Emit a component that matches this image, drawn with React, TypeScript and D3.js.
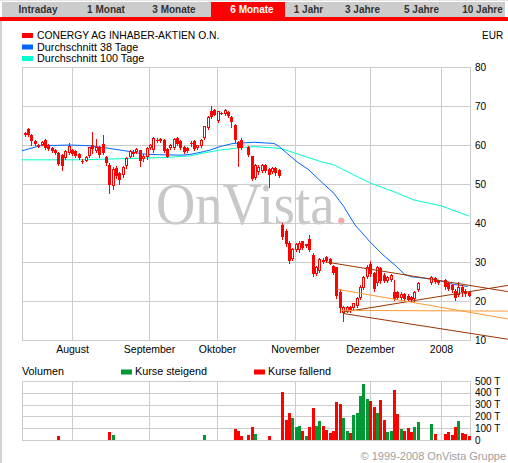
import React from "react";
import * as d3 from "d3";

const W = 508;
const H = 463;

// ---------- data (weekday index 0 = 2007-07-11) ----------
const tabLabels = ["Intraday", "1 Monat", "3 Monate", "6 Monate", "1 Jahr", "3 Jahre", "5 Jahre", "10 Jahre"];
const selectedTab = 3;
const seriesName = "CONERGY AG INHABER-AKTIEN O.N.";
const maNames = ["Durchschnitt 38 Tage", "Durchschnitt 100 Tage"];
const currency = "EUR";
const priceTicks = [10, 20, 30, 40, 50, 60, 70, 80];
const volumeTicks = [0, 100, 200, 300, 400, 500];
const volumeTickLabels = ["0", "100 T", "200 T", "300 T", "400 T", "500 T"];
const monthLabels = ["August", "September", "Oktober", "November", "Dezember", "2008"];
const monthStartDay = [15, 38, 58, 81, 103, 124];

// [open, high, low, close] per weekday, null = no trading
const candles: ([number, number, number, number] | null)[] = [
  null,
  [63.1, 63.3, 62.4, 62.5], [64.1, 64.4, 62.4, 62.6], [62.6, 62.8, 60.1, 61.0], [61.1, 61.3, 59.9, 60.3],
  [60.1, 60.3, 59.4, 59.6], [60.1, 61.0, 59.9, 60.8], [61.2, 61.5, 59.0, 59.3], [60.1, 60.3, 58.7, 59.0],
  [59.3, 59.5, 58.2, 58.5], [58.8, 59.0, 57.6, 57.9], [57.9, 58.1, 54.8, 55.2], [57.4, 57.6, 53.7, 54.6],
  [56.7, 58.6, 56.5, 58.4], [58.0, 60.6, 57.8, 59.7], [58.6, 58.9, 57.5, 57.8], [58.5, 58.7, 56.9, 57.2],
  [57.7, 57.9, 56.4, 56.7], [55.9, 56.3, 55.3, 55.8], [56.0, 57.1, 55.8, 56.9], [57.1, 59.6, 56.9, 59.4],
  [60.0, 63.4, 58.0, 59.0], [58.5, 61.5, 58.2, 59.6], [59.4, 59.8, 57.0, 57.4], [60.2, 62.6, 57.6, 58.0],
  [57.0, 57.3, 54.9, 55.3], [55.0, 55.3, 47.8, 49.8], [49.5, 54.3, 48.8, 53.8], [54.1, 54.5, 51.6, 52.0],
  [52.8, 53.2, 50.1, 51.1], [52.2, 54.5, 51.8, 54.3], [54.6, 56.8, 54.2, 56.6], [57.0, 58.6, 56.8, 58.4],
  [57.6, 58.6, 57.3, 58.3], [58.3, 59.2, 58.0, 59.0], [58.6, 58.8, 54.6, 55.9], [56.4, 57.6, 56.0, 57.3],
  [56.8, 59.4, 56.5, 59.2], [59.2, 60.3, 58.9, 60.1], [58.6, 62.0, 58.3, 61.8], [61.3, 61.8, 60.8, 61.2],
  [61.0, 61.8, 60.8, 61.6], [61.4, 61.6, 58.2, 58.5], [59.0, 59.3, 56.8, 57.0], [59.2, 60.3, 59.0, 60.1],
  [59.3, 61.8, 59.1, 61.6], [61.7, 62.0, 59.9, 60.2], [61.0, 61.2, 59.0, 59.3], [59.6, 59.8, 57.9, 58.3],
  [59.2, 59.5, 58.2, 58.4], [60.3, 61.0, 59.7, 60.4], [61.0, 61.2, 58.6, 58.9], [59.3, 60.1, 59.0, 60.0],
  [59.7, 61.5, 59.5, 61.4], [61.8, 65.0, 61.6, 64.8], [64.4, 67.5, 64.2, 67.3], [68.6, 70.0, 66.8, 67.3],
  [69.0, 69.3, 67.6, 67.8], [66.2, 68.8, 66.0, 68.6], [68.1, 68.5, 67.9, 68.2], [67.9, 69.3, 67.7, 69.0],
  [68.5, 68.7, 67.2, 67.4], [67.2, 67.5, 64.5, 66.0], [65.1, 65.3, 60.8, 61.2], [60.8, 61.0, 54.5, 59.3],
  [61.4, 61.8, 59.0, 59.3], null, [59.4, 59.7, 57.3, 57.5], [57.1, 57.3, 51.0, 51.3],
  [51.6, 55.2, 51.2, 54.8], [53.0, 54.8, 52.6, 54.3], [53.4, 55.2, 53.0, 55.0], [54.8, 55.2, 53.0, 53.4],
  [53.8, 54.2, 49.3, 52.3], [53.0, 54.3, 52.7, 54.0], [54.0, 54.3, 52.4, 52.7], [53.6, 53.9, 51.8, 52.1],
  [39.5, 40.0, 36.0, 36.4], [38.0, 38.4, 34.2, 34.6], [35.0, 35.3, 29.8, 30.2], [30.8, 33.6, 30.5, 33.3],
  [33.2, 34.9, 32.9, 34.6], [33.0, 35.3, 32.6, 35.0], [35.3, 35.5, 33.4, 33.7], [34.0, 34.7, 33.8, 34.5],
  [35.8, 37.0, 32.8, 33.1], [31.8, 32.2, 26.5, 27.0], [27.0, 28.9, 26.6, 28.6], [27.8, 31.0, 27.5, 30.7],
  [30.6, 30.9, 29.8, 30.0], [31.3, 31.5, 30.0, 30.2], [30.8, 31.0, 29.4, 29.6], [29.0, 29.2, 27.0, 27.2],
  [28.6, 28.8, 20.8, 21.2], [22.4, 23.0, 17.2, 18.2], [17.0, 18.6, 15.0, 18.4], [17.4, 18.7, 17.2, 18.4],
  [18.5, 18.8, 17.3, 17.6], [18.1, 19.6, 17.9, 19.4], [18.8, 20.9, 18.5, 20.7], [20.8, 24.0, 20.5, 23.7],
  [23.3, 26.5, 23.0, 26.2], [26.2, 29.3, 26.0, 28.8], [29.5, 30.2, 26.4, 26.8], [27.2, 27.5, 22.6, 23.0],
  [24.6, 29.0, 24.2, 28.7], [28.4, 28.8, 24.6, 25.0], [26.6, 27.2, 24.8, 25.2], [25.0, 26.4, 24.8, 26.1],
  [25.5, 27.0, 25.2, 26.6], [22.4, 25.4, 20.2, 20.6], [22.3, 22.6, 20.5, 20.8], [20.8, 22.2, 20.6, 21.9],
  [21.8, 22.0, 20.3, 20.6], [21.4, 21.7, 19.9, 20.3], [21.1, 21.3, 20.0, 20.3], [20.4, 22.6, 20.1, 22.3],
  [22.9, 24.8, 22.6, 24.5], null, null, null,
  [24.6, 26.5, 24.4, 26.1], [26.0, 26.2, 24.5, 24.8], [25.3, 25.5, 24.3, 24.6], null,
  [25.3, 25.6, 23.2, 23.5], [24.6, 24.8, 22.8, 23.1], [24.1, 24.3, 22.4, 22.7], [22.5, 23.0, 20.2, 20.8],
  [21.6, 24.8, 21.3, 23.6], [23.5, 24.0, 21.4, 22.2], [22.6, 23.0, 21.3, 21.7], [22.3, 22.5, 21.2, 21.4],
];

// volume in thousands, by weekday index
const volumeDay = [11, 26, 27, 54, 63, 64, 65, 67, 68, 69, 73, 77, 78, 79, 80, 81, 82, 83, 84, 85, 86, 87, 88, 89, 90, 91, 92, 93, 94, 95, 96, 97, 98, 99, 100, 101, 102, 103, 104, 105, 106, 107, 108, 109, 110, 111, 112, 113, 114, 115, 116, 117, 121, 122, 125, 126, 127, 128, 129, 130, 131, 132];
const volumeK = [35, 70, 42, 42, 93, 80, 34, 42, 110, 48, 34, 407, 168, 230, 185, 107, 118, 79, 34, 107, 267, 118, 160, 118, 84, 62, 79, 320, 303, 185, 76, 62, 211, 228, 371, 472, 346, 329, 281, 228, 337, 169, 70, 79, 421, 219, 93, 76, 101, 67, 107, 155, 135, 51, 51, 67, 42, 107, 160, 62, 51, 34];

// moving averages: [weekday index, value]
const ma38: [number, number][] = [
  [0.2, 58.5], [5.5, 59.8], [14.4, 60.0], [20.3, 59.8], [24.7, 59.3], [29.2, 58.7], [33, 58.2], [35.9, 57.7],
  [40.9, 57.5], [47.7, 57.4], [49.8, 57.6], [52.8, 58.1], [55.7, 58.7], [58.7, 59.6], [62.5, 60.4], [68.7, 60.7],
  [74.6, 60.4], [76.1, 59.6], [78.4, 57.9], [81.4, 55.7], [84.9, 53.6], [88.5, 50.6], [92.3, 47.6], [95.2, 44.2],
  [97.3, 41.2], [98.5, 39.5], [102.9, 35.2], [106.8, 31.8], [110.3, 29.2], [113.2, 26.8], [115.3, 26.2],
  [117.7, 26.0], [122.7, 25.4], [127.4, 24.3], [131.8, 23.7],
];
const ma100: [number, number][] = [
  [0.2, 56.2], [17, 56.2], [26.2, 56.4], [35, 56.6], [42.4, 56.8], [49.8, 57.2], [54.2, 58.0], [58.7, 58.7],
  [64.6, 59.3], [68.7, 59.6], [76.7, 59.1], [80.5, 58.0], [88.5, 55.7], [92.3, 54.9], [98.2, 52.3],
  [103.2, 50.2], [110, 48.0], [115.9, 45.9], [123.9, 44.4], [132.1, 41.8],
];

// trend lines: [[day, value], [day, value]]
const brownLines: [number, number][][] = [
  [[90, 30.0], [143.6, 22.4]],
  [[94.7, 17.1], [143.6, 24.0]],
  [[95.0, 16.8], [143.6, 10.2]],
];
const orangeLines: [number, number][][] = [
  [[93.3, 23.0], [143.6, 15.4]],
  [[94.7, 17.6], [143.6, 17.4]],
];

// ---------- layout / style ----------
const SANS = "'Liberation Sans', Arial, Helvetica, sans-serif";
const SERIF = "'Liberation Serif', 'Times New Roman', serif";
const GRID = "#cccccc";
const RED = "#ff0000";
const GREEN = "#009933";
const BLUE = "#0066ff";
const CYAN = "#00ffcc";
const BROWN = "#993300";
const ORANGE = "#ff9933";
const tabCenters = [38, 106, 174, 252, 308.5, 362.5, 421.5, 482.5];
const tabSel = [211, 285];
const plotL = 22;
const plotR = 470;

export default function App() {
  const x = d3.scaleLinear().domain([0, 132]).range([21.2, 468.5]);
  const yP = d3.scaleLinear().domain([10, 80]).range([340, 67]);
  const yV = d3.scaleLinear().domain([0, 500]).range([440, 381]);

  const maLine = d3
    .line<[number, number]>()
    .x((d) => x(d[0]))
    .y((d) => yP(d[1]));

  const vx = (i: number) => Math.floor(x(i)) + 0.5;

  return (
    <svg
      width={W}
      height={H}
      viewBox={`0 0 ${W} ${H}`}
      style={{ position: "absolute", left: 0, top: 0, background: "#fff", fontFamily: SANS }}
      fontFamily={SANS}
    >
      <rect x={0} y={0} width={W} height={H} fill="#fff" />
      {/* tabs */}
      <rect x={0} y={0} width={W} height={1} fill="#e4e4e4" />
      <rect x={2} y={2} width={503} height={15} fill="#cccccc" />
      <rect x={0} y={17} width={W} height={4} fill={RED} />
      <rect x={tabSel[0]} y={2} width={tabSel[1] - tabSel[0]} height={19} fill={RED} />
      {tabLabels.map((t, i) => (
        <text
          key={t}
          x={tabCenters[i]}
          y={13.3}
          textAnchor="middle"
          fontFamily={SANS}
          fontSize={10}
          fontWeight="bold"
          fill={i === selectedTab ? "#fff" : "#333"}
        >
          {t}
        </text>
      ))}
      {/* left frame */}
      <rect x={0} y={21} width={2} height={H - 21} fill="#d4d4d4" />

      {/* legend */}
      <rect x={22} y={33} width={11} height={5} fill={RED} />
      <text x={37} y={39} fontFamily={SANS} fontSize={10.3} fill="#000">{seriesName}</text>
      <rect x={22} y={44.5} width={11} height={5} fill={BLUE} />
      <text x={37} y={50.5} fontFamily={SANS} fontSize={10.8} fill="#000">{maNames[0]}</text>
      <rect x={22} y={56} width={11} height={5} fill={CYAN} />
      <text x={37} y={62} fontFamily={SANS} fontSize={10.8} fill="#000">{maNames[1]}</text>
      <text x={482} y={39} fontFamily={SANS} fontSize={10} fill="#000">{currency}</text>

      {/* watermark */}
      <text x={156} y={224} fontFamily={SERIF} fontSize={60} fill="#c8c8c8" textLength={192} lengthAdjust="spacingAndGlyphs">
        OnVista<tspan fill="#f4a8a8">.</tspan>
      </text>

      {/* price grid */}
      {priceTicks.map((v) => (
        <line key={"h" + v} x1={plotL} x2={plotR + 1} y1={Math.round(yP(v)) + 0.5} y2={Math.round(yP(v)) + 0.5} stroke={GRID} />
      ))}
      {monthStartDay.map((d) => (
        <line key={"v" + d} x1={vx(d)} x2={vx(d)} y1={67} y2={341} stroke={GRID} />
      ))}
      <line x1={plotL + 0.5} x2={plotL + 0.5} y1={67} y2={341} stroke={GRID} />
      <line x1={plotR + 0.5} x2={plotR + 0.5} y1={67} y2={341} stroke={GRID} />
      {priceTicks.map((v) => (
        <text key={"pl" + v} x={475} y={yP(v) + 3.6} fontFamily={SANS} fontSize={10} fill="#000">
          {v}
        </text>
      ))}
      {monthLabels.map((m, i) => (
        <text key={m} x={vx(monthStartDay[i])} y={353} fontFamily={SANS} fontSize={10.5} textAnchor="middle" fill="#000">
          {m}
        </text>
      ))}

      {/* moving averages */}
      <path d={maLine(ma100) || ""} fill="none" stroke={CYAN} strokeWidth={1} />
      <path d={maLine(ma38) || ""} fill="none" stroke={BLUE} strokeWidth={1} />

      {/* candles */}
      {candles.map((c, i) => {
        if (!c) return null;
        const [o, h, l, cl] = c;
        const cx = Math.round(x(i));
        const up = cl > o;
        const top = Math.round(yP(Math.max(o, cl)));
        const bot = Math.round(yP(Math.min(o, cl)));
        return (
          <g key={"c" + i}>
            <line x1={cx + 0.5} x2={cx + 0.5} y1={Math.round(yP(h))} y2={Math.round(yP(l)) + 1} stroke={RED} />
            {up && bot - top > 1 ? (
              <rect x={cx - 0.5} y={top + 0.5} width={2} height={bot - top - 1} fill="#fff" stroke={RED} />
            ) : (
              <rect x={cx - 1} y={top} width={3} height={Math.max(bot - top, 1)} fill={RED} />
            )}
          </g>
        );
      })}

      {/* trend lines */}
      {brownLines.map((ln, k) => (
        <line key={"b" + k} x1={x(ln[0][0])} y1={yP(ln[0][1])} x2={x(ln[1][0])} y2={yP(ln[1][1])} stroke={BROWN} strokeWidth={1} />
      ))}
      {orangeLines.map((ln, k) => (
        <line key={"o" + k} x1={x(ln[0][0])} y1={yP(ln[0][1])} x2={x(ln[1][0])} y2={yP(ln[1][1])} stroke={ORANGE} strokeWidth={1} />
      ))}

      {/* volume legend */}
      <text x={22} y={375} fontFamily={SANS} fontSize={10.8} fill="#000">Volumen</text>
      <rect x={121} y={369.5} width={11} height={5} fill={GREEN} />
      <text x={135} y={375} fontFamily={SANS} fontSize={10.8} fill="#000">Kurse steigend</text>
      <rect x={254} y={369.5} width={11} height={5} fill={RED} />
      <text x={268} y={375} fontFamily={SANS} fontSize={10.8} fill="#000">Kurse fallend</text>

      {/* volume grid */}
      {volumeTicks.map((v) => (
        <line key={"vh" + v} x1={plotL} x2={plotR + 1} y1={Math.round(yV(v)) + 0.5} y2={Math.round(yV(v)) + 0.5} stroke={GRID} />
      ))}
      {monthStartDay.map((d) => (
        <line key={"vv" + d} x1={vx(d)} x2={vx(d)} y1={381} y2={441} stroke={GRID} />
      ))}
      <line x1={plotL + 0.5} x2={plotL + 0.5} y1={381} y2={441} stroke={GRID} />
      <line x1={plotR + 0.5} x2={plotR + 0.5} y1={381} y2={441} stroke={GRID} />
      {volumeTicks.map((v, i) => (
        <text key={"vl" + v} x={475} y={yV(v) + 3.6} fontFamily={SANS} fontSize={10} fill="#000">
          {volumeTickLabels[i]}
        </text>
      ))}
      {volumeDay.map((d, k) => {
        const c = candles[d];
        const up = c ? c[3] > c[0] : false;
        const top = Math.round(yV(volumeK[k]));
        return (
          <rect key={"vb" + d} x={Math.round(x(d)) - 1} y={top} width={3} height={440 - top} fill={up ? GREEN : RED} />
        );
      })}

      {/* copyright */}
      <text x={506} y={460} fontFamily={SANS} fontSize={11} textAnchor="end" fill="#a0a0a0">
        © 1999-2008 OnVista Gruppe
      </text>
    </svg>
  );
}
